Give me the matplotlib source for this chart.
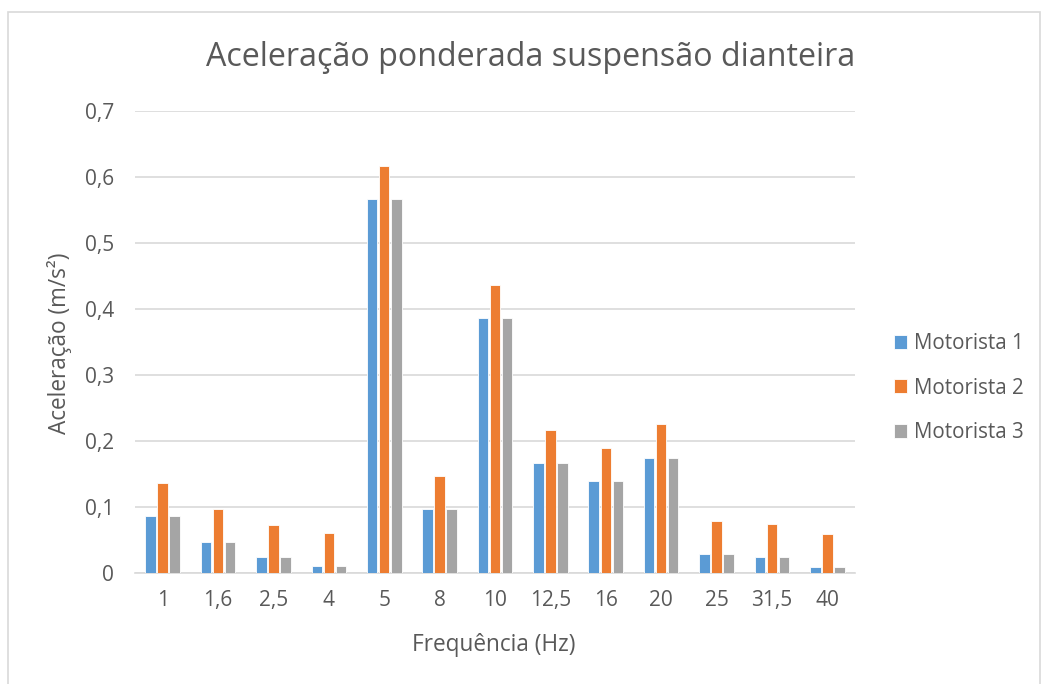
import numpy as np
import matplotlib
matplotlib.use("Agg")
import matplotlib.pyplot as plt
from matplotlib.patches import Rectangle

freqs = ["1", "1,6", "2,5", "4", "5", "8", "10", "12,5", "16", "20", "25", "31,5", "40"]
motorista1 = [0.086, 0.047, 0.024, 0.011, 0.567, 0.097, 0.386, 0.167, 0.140, 0.175, 0.029, 0.024, 0.009]
motorista2 = [0.136, 0.097, 0.073, 0.061, 0.617, 0.147, 0.436, 0.217, 0.190, 0.226, 0.079, 0.075, 0.059]
motorista3 = [0.086, 0.047, 0.024, 0.011, 0.567, 0.097, 0.386, 0.167, 0.140, 0.175, 0.029, 0.024, 0.009]
series = ["Motorista 1", "Motorista 2", "Motorista 3"]
colors = ["#5B9BD5", "#ED7D31", "#A5A5A5"]
yticks = [0, 0.1, 0.2, 0.3, 0.4, 0.5, 0.6, 0.7]

plt.rcParams["font.family"] = ["Open Sans", "DejaVu Sans"]
txt = "#595959"

W, H = 1043, 684
fig = plt.figure(figsize=(W / 100, H / 100), dpi=100)
ax = fig.add_axes([135 / W, 1 - 573 / H, 720 / W, 462 / H])

# light frame round the whole chart
fig.patches.append(Rectangle((8 / W, -0.01), 1032 / W, 1 - 12 / H + 0.01,
                             transform=fig.transFigure, fill=False,
                             edgecolor="#D9D9D9", linewidth=1.2))

x = np.arange(len(freqs))
width = 0.19
step = 0.217
for i, (vals, name, c) in enumerate(zip([motorista1, motorista2, motorista3], series, colors)):
    ax.bar(x + (i - 1) * step, vals, width, color=c, label=name,
           edgecolor="white", linewidth=0.6, zorder=3)

ax.set_xlim(-0.5, len(freqs) - 0.5)
ax.set_ylim(0, 0.7)
ax.set_yticks(yticks)
ax.set_yticklabels([("%.1f" % v).replace(".", ",") if v else "0" for v in yticks])
ax.set_xticks(x)
ax.set_xticklabels(freqs)
ax.grid(axis="y", color="#D9D9D9", linewidth=1.2, zorder=0)
for s in ["top", "right", "left"]:
    ax.spines[s].set_visible(False)
ax.spines["bottom"].set_color("#D9D9D9")
ax.spines["bottom"].set_linewidth(1.2)
ax.tick_params(length=0, labelsize=15, colors=txt)
ax.tick_params(axis="x", pad=12)
ax.tick_params(axis="y", pad=15)

fig.text(494 / W, 1 - 645 / H, "Frequência (Hz)", ha="center", va="center",
         fontsize=16.3, color=txt)
fig.text(59 / W, 1 - 343 / H, "Aceleração (m/s²)", ha="center", va="center",
         rotation=90, fontsize=16.3, color=txt)
fig.text(531 / W, 1 - 58 / H, "Aceleração ponderada suspensão dianteira",
         ha="center", va="center", fontsize=23.2, color=txt)

leg = fig.legend(loc="center left", bbox_to_anchor=(875 / W, 1 - 388 / H), frameon=False,
                 fontsize=14.8, handlelength=0.65, handleheight=0.65,
                 handletextpad=0.35, labelspacing=1.15)
for t in leg.get_texts():
    t.set_color(txt)

fig.savefig("out.png", dpi=100, facecolor="white")
